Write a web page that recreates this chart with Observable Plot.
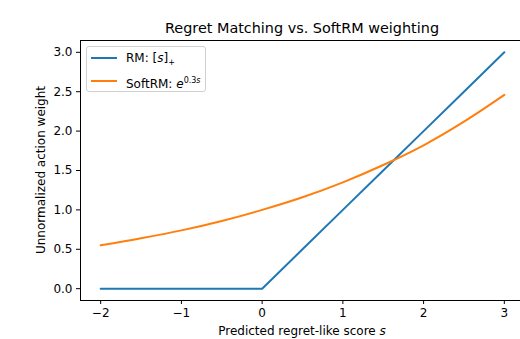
<!DOCTYPE html>
<html>
<head>
<meta charset="utf-8">
<script src="https://cdn.jsdelivr.net/npm/d3@7"></script>
<script src="https://cdn.jsdelivr.net/npm/@observablehq/plot@0.6"></script>
<style>
  html, body { margin: 0; padding: 0; background: white; overflow: hidden; }
  #wrap { position: relative; width: 520px; height: 339px; font-family: "DejaVu Sans", sans-serif; }
  #legend { position: absolute; left: 86px; top: 46px; width: 118px; height: 44px;
    border: 1px solid #d0d0d0; border-radius: 3px; background: rgba(255,255,255,0.8);
    font-size: 12px; color: #000; }
  .item { position: absolute; left: 0; height: 16px; }
  .sw { position: absolute; left: 4px; width: 26px; height: 2px; }
  .lab { position: absolute; left: 39px; white-space: nowrap; line-height: 14px; }
</style>
</head>
<body>
<div id="wrap"></div>
<script>
const scores = [-2, -1.5, -1, -0.5, 0, 0.5, 1, 1.5, 2, 2.5, 3];
const rmWeights = [0, 0, 0, 0, 0, 0.5, 1, 1.5, 2, 2.5, 3];
const softWeights = [0.55, 0.64, 0.74, 0.86, 1.00, 1.16, 1.35, 1.57, 1.82, 2.12, 2.46];
const xTicks = [-2, -1, 0, 1, 2, 3];
const yTicks = [0, 0.5, 1, 1.5, 2, 2.5, 3];
const seriesNames = ["RM", "SoftRM"];
const seriesColors = ["#1f77b4", "#ff7f0e"];

const rmData = scores.map((s, i) => ({s, w: rmWeights[i]}));
const softData = scores.map((s, i) => ({s, w: softWeights[i]}));

const chart = Plot.plot({
  width: 520,
  height: 339,
  marginLeft: 80,
  marginRight: -4,
  marginTop: 40,
  marginBottom: 39,
  style: {fontFamily: "DejaVu Sans, sans-serif", fontSize: "12px", color: "#000", background: "white"},
  x: {domain: [-2.25, 3.25], ticks: xTicks, tickFormat: d3.format("d"), label: null, tickSize: 4, tickPadding: 4},
  y: {domain: [-0.15, 3.15], ticks: yTicks, tickFormat: d3.format(".1f"), label: null, tickSize: 4, tickPadding: 4},
  marks: [
    Plot.line(rmData, {x: "s", y: "w", stroke: seriesColors[0], strokeWidth: 2}),
    Plot.line(softData, {x: "s", y: "w", stroke: seriesColors[1], strokeWidth: 2, curve: "catmull-rom"}),
    Plot.frame({stroke: "#000", strokeWidth: 1})
  ]
});

const wrap = document.getElementById("wrap");
wrap.appendChild(chart);

const svg = d3.select(chart);
svg.selectAll("[aria-label='x-axis tick'] path, [aria-label='y-axis tick'] path").attr("stroke", "#000");
svg.append("text").attr("x", 302).attr("y", 33).attr("text-anchor", "middle")
  .attr("font-size", "14.4px").attr("fill", "#000").text("Regret Matching vs. SoftRM weighting");
const xl = svg.append("text").attr("x", 302).attr("y", 335).attr("text-anchor", "middle")
  .attr("font-size", "12px").attr("fill", "#000");
xl.append("tspan").text("Predicted regret-like score ");
xl.append("tspan").attr("font-style", "italic").text("s");
svg.append("text").attr("transform", "translate(45,170) rotate(-90)").attr("text-anchor", "middle")
  .attr("font-size", "12px").attr("fill", "#000").text("Unnormalized action weight");

const legend = document.createElement("div");
legend.id = "legend";
legend.innerHTML = `
  <div class="item" style="top:0px"><div class="sw" style="top:10px;background:${seriesColors[0]}"></div>
    <div class="lab" style="top:4px">${seriesNames[0]}: [<i>s</i>]<sub style="font-size:8px;vertical-align:-3px">+</sub></div></div>
  <div class="item" style="top:23px"><div class="sw" style="top:10px;background:${seriesColors[1]}"></div>
    <div class="lab" style="top:4px">${seriesNames[1]}: <i>e</i><sup style="font-size:8px;vertical-align:5px">0.3<i>s</i></sup></div></div>`;
wrap.appendChild(legend);
</script>
</body>
</html>
